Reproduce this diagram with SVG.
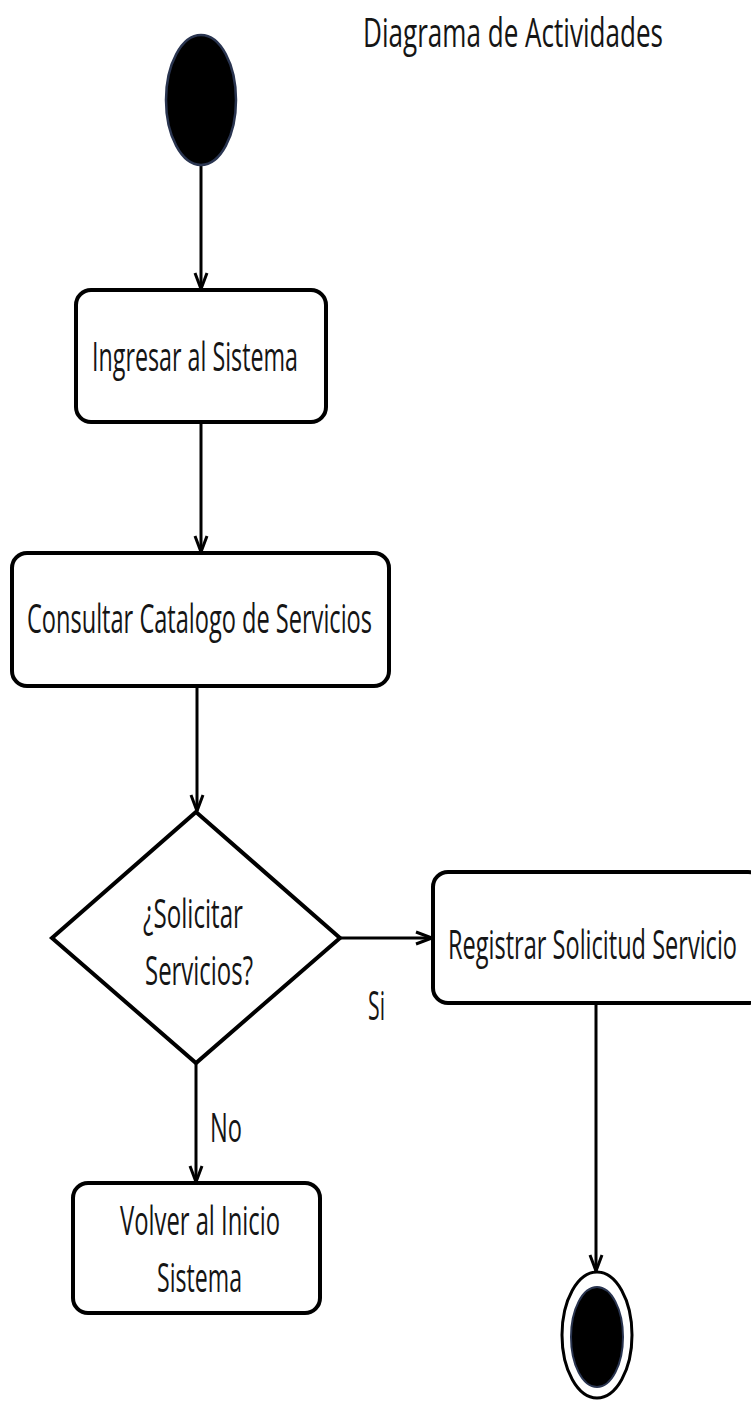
<svg xmlns="http://www.w3.org/2000/svg" width="751" height="1401" viewBox="0 0 751 1401">
<style>
.box{fill:#fff;stroke:#000;stroke-width:4}
.t{font-family:"Open Sans","Liberation Sans",sans-serif;font-size:41px;fill:#151515;font-weight:500}
.edge{stroke:#000;stroke-width:3;fill:none}
.ah{stroke:#000;stroke-width:3;fill:none;stroke-linejoin:miter}
</style>
<rect width="751" height="1401" fill="#fff"/>
<text class="t" x="513" y="47" text-anchor="middle" textLength="300" lengthAdjust="spacingAndGlyphs">Diagrama de Actividades</text>
<g id="connectors">
<line class="edge" x1="201" y1="165" x2="201" y2="289"/>
<path class="ah" d="M195,273 L201,289 L207,273"/>
<line class="edge" x1="201" y1="422" x2="201" y2="552"/>
<path class="ah" d="M195,536 L201,552 L207,536"/>
<line class="edge" x1="197" y1="687" x2="197" y2="811"/>
<path class="ah" d="M191,795 L197,811 L203,795"/>
<line class="edge" x1="340" y1="938" x2="432" y2="938"/>
<path class="ah" d="M416,932 L432,938 L416,944"/>
<line class="edge" x1="196" y1="1063" x2="196" y2="1182"/>
<path class="ah" d="M190,1166 L196,1182 L202,1166"/>
<line class="edge" x1="596" y1="1003" x2="596" y2="1271"/>
<path class="ah" d="M590,1255 L596,1271 L602,1255"/>
<text class="t" x="376.5" y="1020" text-anchor="middle" textLength="17" lengthAdjust="spacingAndGlyphs">Si</text>
<text class="t" x="226" y="1142" text-anchor="middle" textLength="32" lengthAdjust="spacingAndGlyphs">No</text>
</g>
<g id="start">
<ellipse cx="201" cy="100" rx="35" ry="65" fill="#000" stroke="#2a3550" stroke-width="2.5"/>
</g>
<g id="ingresar">
<rect class="box" x="76" y="290" width="250" height="132" rx="15"/>
<text class="t" x="195" y="371" text-anchor="middle" textLength="206" lengthAdjust="spacingAndGlyphs">Ingresar al Sistema</text>
</g>
<g id="consultar">
<rect class="box" x="12" y="553" width="377" height="133" rx="15"/>
<text class="t" x="199.5" y="633" text-anchor="middle" textLength="345" lengthAdjust="spacingAndGlyphs">Consultar Catalogo de Servicios</text>
</g>
<g id="decision">
<polygon class="box" points="196,812 340,938 196,1063 52,938"/>
<text class="t" x="193" y="928" text-anchor="middle" textLength="100" lengthAdjust="spacingAndGlyphs">¿Solicitar</text>
<text class="t" x="199" y="985" text-anchor="middle" textLength="108" lengthAdjust="spacingAndGlyphs">Servicios?</text>
</g>
<g id="registrar">
<rect class="box" x="433" y="872" width="330" height="131" rx="15"/>
<text class="t" x="592.5" y="959" text-anchor="middle" textLength="289" lengthAdjust="spacingAndGlyphs">Registrar Solicitud Servicio</text>
</g>
<g id="volver">
<rect class="box" x="73" y="1183" width="247" height="130" rx="15"/>
<text class="t" x="200" y="1235" text-anchor="middle" textLength="160" lengthAdjust="spacingAndGlyphs">Volver al Inicio</text>
<text class="t" x="199.5" y="1292" text-anchor="middle" textLength="85" lengthAdjust="spacingAndGlyphs">Sistema</text>
</g>
<g id="end">
<ellipse cx="597" cy="1335" rx="35" ry="63" fill="#fff" stroke="#000" stroke-width="3"/>
<ellipse cx="597" cy="1337" rx="26" ry="50" fill="#000" stroke="#2a3550" stroke-width="2"/>
</g>
</svg>
